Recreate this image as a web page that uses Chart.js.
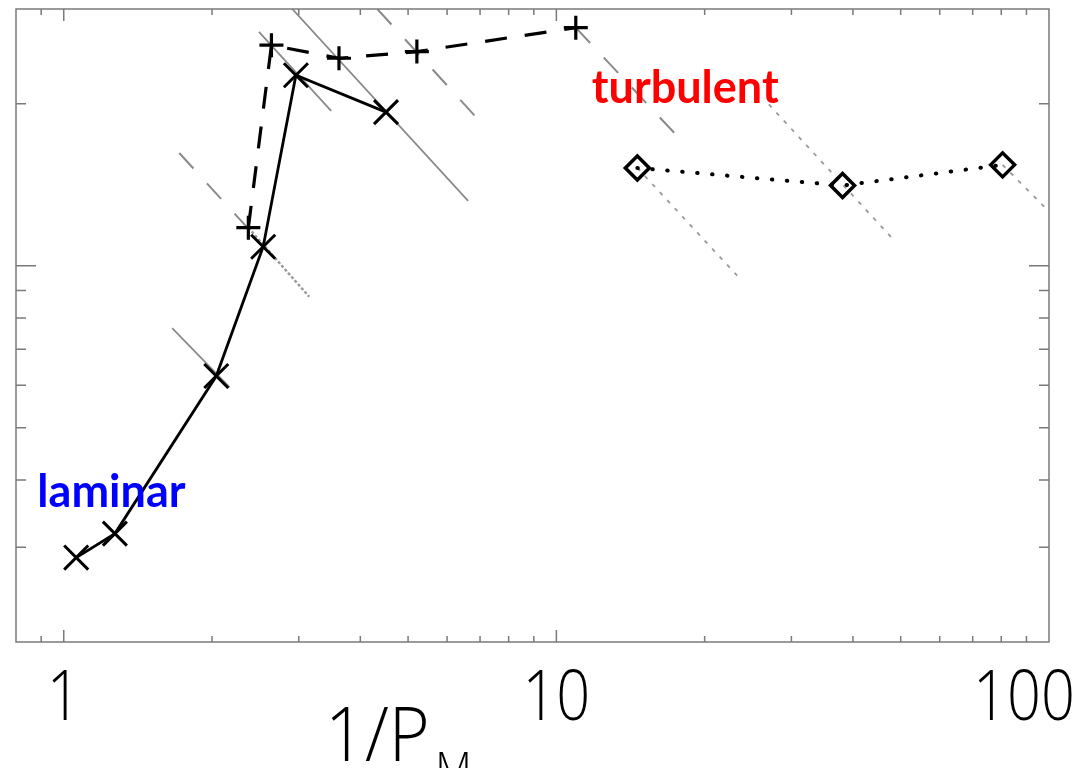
<!DOCTYPE html>
<html>
<head>
<meta charset="utf-8">
<script src="https://cdn.jsdelivr.net/npm/chart.js@4.4.1/dist/chart.umd.min.js"></script>
<style>
  html, body { margin: 0; padding: 0; background: #fff; }
  #wrap { width: 1086px; height: 768px; position: relative; }
</style>
</head>
<body>
<div id="wrap"><canvas id="chart"></canvas></div>
<script>
// values (log-log, y axis has no numbers)
const solidX = [1.06, 1.27, 2.04, 2.54, 2.96, 4.51];
const solidY = [0.287, 0.318, 0.624, 1.085, 2.26, 1.93];
const dashX = [2.37, 2.64, 3.62, 5.21, 10.95];
const dashY = [1.177, 2.57, 2.43, 2.50, 2.77];
const dotX = [14.6, 38.1, 80.5];
const dotY = [1.52, 1.41, 1.54];

// gray ~1/x guide segments, [x1, y1, x2, y2]
const guidesSolid = [[2.91, 3.0, 6.62, 1.32], [2.49, 2.72, 3.49, 1.94], [1.66, 0.766, 2.17, 0.595]];
const guidesDashed = [[1.716, 1.62, 2.38, 1.167], [4.33, 3.0, 6.97, 1.862], [10.95, 2.77, 17.47, 1.754]];
const guidesHatched = [[2.37, 1.177, 3.15, 0.876]];
const guidesDotted = [[14.6, 1.52, 23.5, 0.95], [27.0, 1.994, 48.8, 1.108], [80.5, 1.54, 99.3, 1.27]];

// axes
const xRange = [0.8, 100];
const yRange = [0.2, 3];
const xTickValues = [1, 10, 100];
const xTickLabels = ["1", "10", "100"];
const xMinorTicks = [0.9, 2, 3, 4, 5, 6, 7, 8, 9, 20, 30, 40, 50, 60, 70, 80, 90];
const yMajorTicks = [1];
const yMinorTicks = [0.3, 0.4, 0.5, 0.6, 0.7, 0.8, 0.9, 2];

// text notes (anchored in data coords)
const notes = [
  { text: "turbulent", x: 11.8, y: 2.01, color: "#ff0000" },
  { text: "laminar", x: 0.884, y: 0.356, color: "#0000ff" },
];

const toPts = (xs, ys) => xs.map((x, i) => ({ x: x, y: ys[i] }));

function guideSets(list, style) {
  return list.map((g) => Object.assign({
    data: [{ x: g[0], y: g[1] }, { x: g[2], y: g[3] }],
    showLine: true,
    pointRadius: 0,
    order: 5,
  }, style));
}

const datasets = [
  {
    label: "solid",
    data: toPts(solidX, solidY),
    showLine: true,
    borderColor: "#000",
    borderWidth: 2.8,
    pointStyle: "crossRot",
    pointRadius: 17,
    pointBorderWidth: 3,
    pointBorderColor: "#000",
    pointBackgroundColor: "transparent",
    order: 0,
  },
  {
    label: "dashed",
    data: toPts(dashX, dashY),
    showLine: true,
    borderColor: "#000",
    borderWidth: 3.2,
    borderDash: [22, 18],
    pointStyle: "cross",
    pointRadius: 12,
    pointBorderWidth: 3.2,
    pointBorderColor: "#000",
    pointBackgroundColor: "transparent",
    order: 0,
  },
  {
    label: "dotted",
    data: toPts(dotX, dotY),
    showLine: true,
    borderColor: "#000",
    borderWidth: 4,
    borderDash: [0.5, 14.5],
    borderCapStyle: "round",
    pointStyle: "rectRot",
    pointRadius: 12,
    pointBorderWidth: 3.5,
    pointBorderColor: "#000",
    pointBackgroundColor: "transparent",
    order: 0,
  },
]
  .concat(guideSets(guidesSolid, { borderColor: "#8a8a8a", borderWidth: 1.8 }))
  .concat(guideSets(guidesDashed, { borderColor: "#8a8a8a", borderWidth: 2, borderDash: [21, 20] }))
  .concat(guideSets(guidesHatched, { borderColor: "#9a9a9a", borderWidth: 2.5, borderDash: [3, 2] }))
  .concat(guideSets(guidesDotted, { borderColor: "#9a9a9a", borderWidth: 1.8, borderDash: [4, 7] }));

const tickFont = "300 70px 'Open Sans', 'DejaVu Sans', sans-serif";

// frame, inward ticks, tick labels, title and notes
const framePlugin = {
  id: "frame",
  afterDatasetsDraw(chart) {
    const { ctx, chartArea: a, scales } = chart;
    const x = scales.x, y = scales.y;
    ctx.save();
    ctx.strokeStyle = "#7a7a7a";
    ctx.lineWidth = 1.5;
    ctx.strokeRect(a.left, a.top, a.right - a.left, a.bottom - a.top);
    ctx.beginPath();
    const xt = (v, len) => {
      const px = x.getPixelForValue(v);
      ctx.moveTo(px, a.bottom); ctx.lineTo(px, a.bottom - len);
      ctx.moveTo(px, a.top); ctx.lineTo(px, a.top + len);
    };
    const yt = (v, len) => {
      const py = y.getPixelForValue(v);
      ctx.moveTo(a.left, py); ctx.lineTo(a.left + len, py);
      ctx.moveTo(a.right, py); ctx.lineTo(a.right - len, py);
    };
    xTickValues.forEach((v) => { if (v < xRange[1]) xt(v, 12); });
    xMinorTicks.forEach((v) => xt(v, 6));
    yMajorTicks.forEach((v) => yt(v, 20));
    yMinorTicks.forEach((v) => yt(v, 10));
    ctx.stroke();
    ctx.restore();
  },
  afterDraw(chart) {
    const { ctx, chartArea: a, scales, width } = chart;
    const x = scales.x, y = scales.y;
    ctx.save();
    // x tick labels
    ctx.fillStyle = "#000";
    ctx.font = tickFont;
    ctx.textBaseline = "alphabetic";
    ctx.textAlign = "left";
    const squeeze = 0.85;
    xTickValues.forEach((v, i) => {
      const w = ctx.measureText(xTickLabels[i]).width * squeeze;
      let cx = x.getPixelForValue(v);
      if (cx + w / 2 > width - 11) cx = width - 11 - w / 2;
      ctx.save();
      ctx.translate(cx - w / 2, a.bottom + 78);
      ctx.scale(squeeze, 1);
      ctx.fillText(xTickLabels[i], 0, 0);
      ctx.restore();
    });
    // axis title 1/P_M
    ctx.save();
    ctx.translate(325, 761);
    ctx.scale(0.92, 1);
    ctx.font = "300 76px 'Open Sans', 'DejaVu Sans', sans-serif";
    ctx.fillText("1/P", 0, 0);
    const tw = ctx.measureText("1/P").width;
    ctx.font = "300 46px 'Open Sans', 'DejaVu Sans', sans-serif";
    ctx.fillText("M", tw + 6, 24);
    ctx.restore();
    // notes
    ctx.font = "bold 45px Lato, 'Open Sans', sans-serif";
    notes.forEach((n) => {
      ctx.fillStyle = n.color;
      ctx.fillText(n.text, x.getPixelForValue(n.x), y.getPixelForValue(n.y));
    });
    ctx.restore();
  },
};

new Chart(document.getElementById("chart"), {
  type: "scatter",
  data: { datasets: datasets },
  options: {
    responsive: true,
    maintainAspectRatio: false,
    animation: false,
    events: [],
    layout: { autoPadding: false, padding: { left: 16, top: 9, right: 37, bottom: 126 } },
    plugins: { legend: { display: false }, tooltip: { enabled: false } },
    scales: {
      x: { type: "logarithmic", display: false, bounds: "data", min: xRange[0], max: xRange[1] },
      y: { type: "logarithmic", display: false, bounds: "data", min: yRange[0], max: yRange[1] },
    },
  },
  plugins: [framePlugin],
});
</script>
</body>
</html>
